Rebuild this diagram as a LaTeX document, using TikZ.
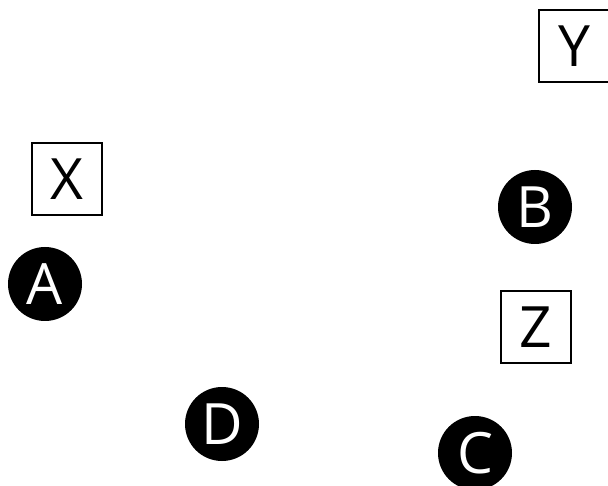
\documentclass[tikz,border=0pt]{standalone}
\usepackage{fontspec}
\setmainfont{Open Sans}
\begin{document}
\begin{tikzpicture}[x=1pt,y=-1pt,
  sq/.style={draw=black,line width=1.8pt,minimum width=70pt,minimum height=72pt,inner sep=0pt,font=\fontsize{57}{62}\selectfont},
  dot/.style={circle,fill=black,text=white,minimum size=74pt,inner sep=0pt,font=\fontsize{57}{62}\selectfont}]
\useasboundingbox (0,0) rectangle (608,486);
\node[sq] (X) at (67,179) {X};
\node[sq] (Y) at (574,46) {Y};
\node[sq] (Z) at (536,327) {Z};
\node[dot] (A) at (45,284) {A};
\node[dot] (B) at (535,207) {B};
\node[dot] (C) at (475,453) {C};
\node[dot] (D) at (222,424) {D};
\end{tikzpicture}
\end{document}
